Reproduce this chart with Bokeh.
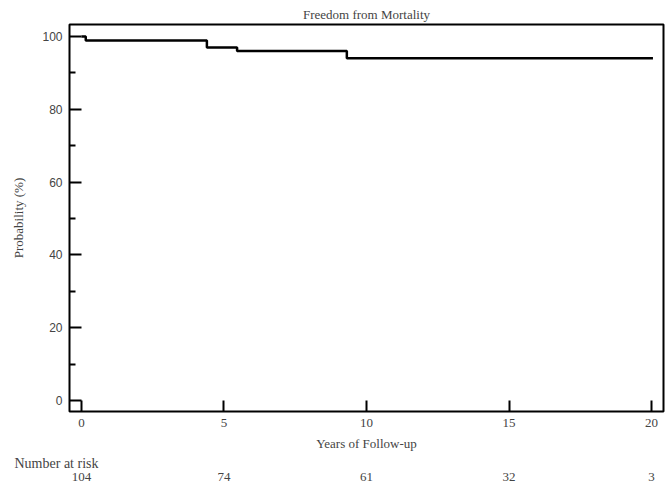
from bokeh.plotting import figure
from bokeh.models import Range1d, FixedTicker, Title, LinearAxis
from bokeh.embed import file_html
from bokeh.resources import INLINE

# ---- data ----
title_text = "Freedom from Mortality"
x_label = "Years of Follow-up"
y_label = "Probability (%)"
step_years = [0, 0.15, 4.40, 5.46, 9.31, 20.05]
step_prob = [100, 98.9, 97.0, 96.0, 94.0, 94.0]
x_ticks = [0, 5, 10, 15, 20]
y_ticks = [0, 20, 40, 60, 80, 100]
y_minor = [10, 30, 50, 70, 90]
risk_title = "Number at risk"
risk_years = [0, 5, 10, 15, 20]
risk_counts = [104, 74, 61, 32, 3]

X0, X1 = -0.42, 20.42
Y0, Y1 = -3.0, 103.3

SERIF = "Liberation Serif"
SANS = "Liberation Sans"

p = figure(width=672, height=486, output_backend="svg", toolbar_location=None,
           x_range=Range1d(X0, X1), y_range=Range1d(Y0, Y1),
           min_border_left=69, min_border_right=9, min_border_top=24,
           min_border_bottom=75)
p.grid.visible = False
p.background_fill_color = "white"
p.border_fill_color = "white"
p.outline_line_color = "black"
p.outline_line_width = 2

p.title.text = title_text
p.title.align = "center"
p.title.text_font = SERIF
p.title.text_font_style = "normal"
p.title.text_font_size = "13px"
p.title.standoff = 5

p.step(step_years, step_prob, mode="after", line_color="black", line_width=2.5)

# x axis
xa = p.xaxis[0]
xa.ticker = FixedTicker(ticks=x_ticks)
xa.axis_line_color = None
xa.major_tick_in = 11
xa.major_tick_out = 0
xa.major_tick_line_width = 2
xa.minor_tick_line_color = None
xa.major_label_text_font = SERIF
xa.major_label_text_font_size = "13px"
xa.major_label_standoff = 7
xa.axis_label = x_label
xa.axis_label_text_font = SERIF
xa.axis_label_text_font_style = "normal"
xa.axis_label_text_font_size = "13px"
xa.axis_label_standoff = 6

# y axis
ya = p.yaxis[0]
ya.ticker = FixedTicker(ticks=y_ticks, minor_ticks=y_minor)
ya.axis_line_color = None
ya.major_tick_in = 12
ya.major_tick_out = 0
ya.major_tick_line_width = 2
ya.minor_tick_in = 6
ya.minor_tick_out = 0
ya.minor_tick_line_width = 2
ya.major_label_text_font = SANS
ya.major_label_text_font_size = "12px"
ya.major_label_standoff = 7
ya.axis_label = y_label
ya.axis_label_text_font = SERIF
ya.axis_label_text_font_style = "normal"
ya.axis_label_text_font_size = "13px"
ya.axis_label_standoff = 13

# number at risk: title row + an axis carrying the counts
p.add_layout(Title(text=risk_title, align="left", offset=-55,
                   text_font=SERIF, text_font_style="normal",
                   text_font_size="14px", standoff=0), "below")
risk_axis = LinearAxis(
    ticker=FixedTicker(ticks=risk_years),
    major_label_overrides={yr: str(n) for yr, n in zip(risk_years, risk_counts)},
    axis_line_color=None, major_tick_line_color=None, minor_tick_line_color=None,
    major_tick_in=0, major_tick_out=0, major_label_standoff=2,
    major_label_text_font=SERIF, major_label_text_font_size="13px")
p.add_layout(risk_axis, "below")

open("out.html", "w").write(file_html(p, INLINE))
